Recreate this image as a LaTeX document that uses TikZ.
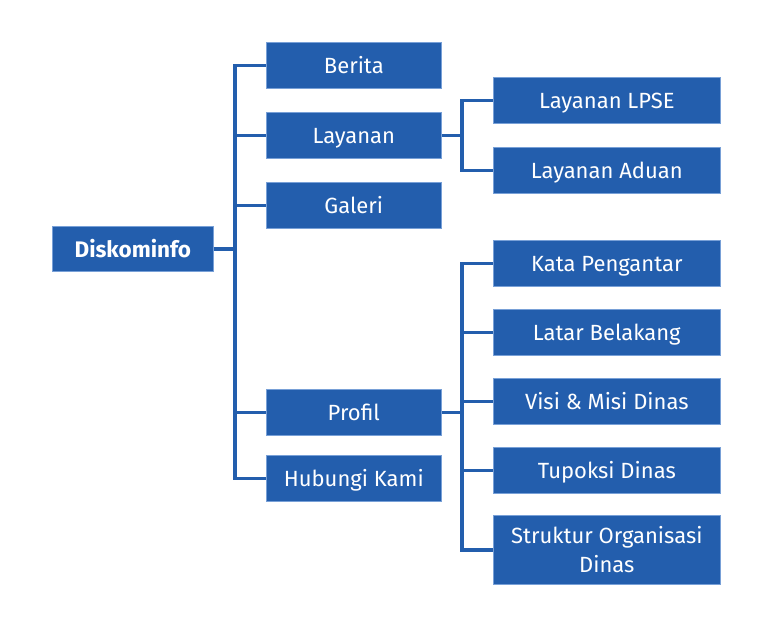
\documentclass[tikz,border=0pt]{standalone}
\usepackage{fontspec}
\setmainfont{Fira Sans}
\definecolor{boxblue}{RGB}{35,94,173}
\definecolor{edgeblue}{RGB}{120,160,215}
\begin{document}
\begin{tikzpicture}[x=1pt,y=-1pt,
  box/.style={fill=boxblue,draw=edgeblue,line width=0.6pt,text=white,anchor=north west,inner sep=0pt,
    font=\fontsize{22}{29}\selectfont,align=center},
  oneline/.style={text height=17pt,text depth=0pt},
  lone/.style={box,oneline,minimum width=175pt,minimum height=46pt},
  ltwo/.style={box,oneline,minimum width=227pt,minimum height=46pt},
  link/.style={draw=boxblue,line width=3.5pt}]
\fill[white] (0,0) rectangle (772,627);
\useasboundingbox (0,0) rectangle (772,627);
\coordinate (busA) at (235,0);
\coordinate (busB) at (462,0);
\node[box,oneline,minimum width=161pt,minimum height=45pt,font=\fontsize{22.5}{29}\selectfont\bfseries] (root) at (52,226) {Diskominfo};
\node[lone] (berita) at (266,42) {Berita};
\node[lone] (layanan) at (266,112) {Layanan};
\node[lone] (galeri) at (266,182) {Galeri};
\node[lone] (profil) at (266,389) {Profil};
\node[lone] (hubungi) at (266,455) {Hubungi Kami};
\node[ltwo] (lpse) at (493,77) {Layanan LPSE};
\node[ltwo] (aduan) at (493,147) {Layanan Aduan};
\node[ltwo] (kata) at (493,240) {Kata Pengantar};
\node[ltwo] (latar) at (493,309) {Latar Belakang};
\node[ltwo] (visi) at (493,378) {Visi \& Misi Dinas};
\node[ltwo] (tupoksi) at (493,447) {Tupoksi Dinas};
\node[box,minimum width=227pt,minimum height=69pt] (struktur) at (493,515) {Struktur Organisasi\\Dinas};
\draw[link] (root.east) -- (root.east -| busA);
\draw[link,line join=miter] (berita.west) -- (berita.west -| busA) -- (hubungi.west -| busA) -- (hubungi.west);
\draw[link] (layanan.west) -- (layanan.west -| busA);
\draw[link] (galeri.west) -- (galeri.west -| busA);
\draw[link] (profil.west) -- (profil.west -| busA);
\draw[link] (layanan.east) -- (layanan.east -| busB);
\draw[link,line join=miter] (lpse.west) -- (lpse.west -| busB) -- (aduan.west -| busB) -- (aduan.west);
\draw[link] (profil.east) -- (profil.east -| busB);
\draw[link,line join=miter] (kata.west) -- (kata.west -| busB) -- (struktur.west -| busB) -- (struktur.west);
\draw[link] (latar.west) -- (latar.west -| busB);
\draw[link] (visi.west) -- (visi.west -| busB);
\draw[link] (tupoksi.west) -- (tupoksi.west -| busB);
\end{tikzpicture}
\end{document}
